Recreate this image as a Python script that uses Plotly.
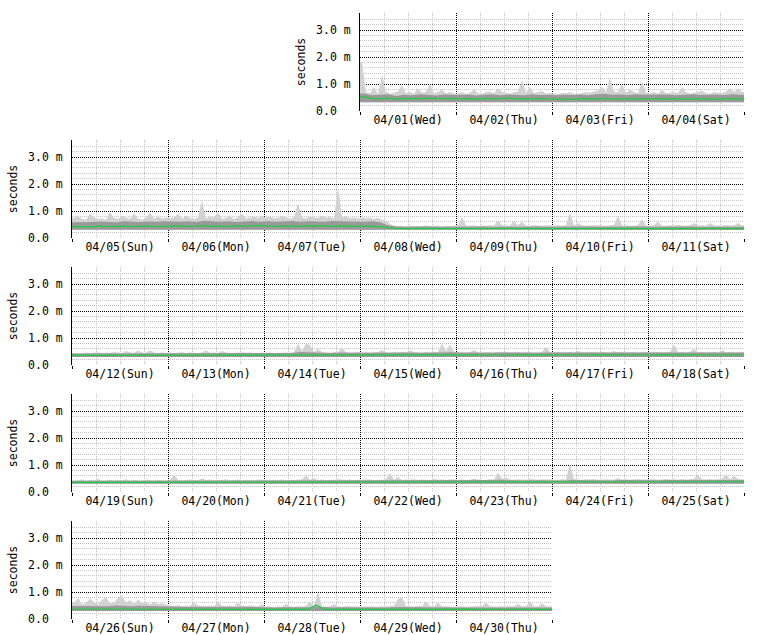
import pandas as pd
import plotly.graph_objects as go

START = "2020-04-01"
N_DAYS = 30

# lower edge of the smoke, one value per day (microseconds)
smoke_min_us = [320, 320, 320, 320, 310, 310, 310, 300, 300, 300, 300,
                300, 300, 300, 300, 300, 300, 300,
                310, 310, 310, 310, 310, 310, 310,
                300, 300, 300, 300, 300]

# upper edge of the smoke (slowest ping), hourly, one list per day (microseconds)
smoke_max_us = [
    [1800, 700, 650, 900, 620, 1350, 700, 640, 680, 720, 950, 660, 700, 640, 850, 680, 700, 1000, 660, 700, 800, 650, 700, 640],
    [650, 700, 620, 680, 800, 660, 640, 700, 720, 650, 850, 700, 680, 640, 700, 720, 1150, 680, 900, 660, 700, 750, 640, 680],
    [640, 620, 680, 660, 700, 640, 620, 660, 700, 680, 720, 760, 900, 700, 1250, 720, 700, 1000, 680, 800, 700, 660, 1100, 680],
    [660, 700, 640, 800, 650, 680, 700, 660, 900, 700, 640, 680, 700, 750, 660, 640, 700, 680, 660, 720, 850, 700, 850, 700],
    [750, 820, 700, 680, 900, 760, 700, 720, 680, 950, 740, 700, 820, 760, 700, 900, 720, 680, 740, 950, 700, 800, 720, 760],
    [720, 760, 900, 700, 820, 740, 700, 760, 1400, 720, 800, 760, 950, 700, 740, 820, 700, 760, 900, 720, 760, 800, 740, 820],
    [760, 800, 720, 740, 820, 760, 700, 780, 1300, 760, 720, 800, 760, 740, 820, 760, 780, 720, 1900, 760, 800, 740, 760, 720],
    [780, 720, 760, 700, 740, 680, 620, 520, 460, 440, 450, 430, 460, 440, 450, 430, 470, 440, 450, 460, 430, 450, 440, 460],
    [480, 780, 460, 450, 470, 440, 460, 450, 470, 460, 670, 480, 460, 450, 650, 470, 600, 460, 450, 480, 460, 450, 470, 460],
    [460, 470, 450, 480, 950, 460, 560, 470, 450, 460, 480, 470, 460, 450, 470, 480, 820, 460, 470, 450, 460, 480, 700, 460],
    [460, 470, 600, 460, 450, 470, 460, 480, 460, 450, 470, 560, 460, 470, 450, 560, 470, 460, 450, 480, 460, 470, 560, 460],
    [440, 450, 430, 460, 440, 450, 470, 440, 460, 450, 480, 460, 440, 520, 460, 450, 540, 460, 450, 550, 460, 440, 460, 450],
    [460, 440, 450, 470, 440, 460, 450, 440, 460, 550, 450, 460, 440, 520, 460, 450, 440, 460, 470, 450, 460, 440, 450, 460],
    [450, 460, 440, 450, 470, 460, 450, 480, 790, 520, 800, 740, 480, 600, 470, 460, 450, 480, 460, 650, 470, 450, 460, 480],
    [460, 470, 450, 460, 480, 560, 460, 450, 470, 460, 480, 460, 550, 470, 460, 450, 480, 460, 470, 480, 800, 520, 750, 480],
    [470, 460, 450, 480, 560, 470, 460, 480, 470, 460, 490, 470, 480, 460, 470, 480, 460, 470, 480, 460, 470, 480, 680, 470],
    [470, 480, 460, 470, 480, 460, 520, 470, 460, 480, 470, 460, 480, 470, 460, 520, 470, 480, 460, 470, 480, 460, 470, 480],
    [460, 470, 480, 460, 470, 480, 760, 470, 480, 460, 490, 600, 470, 480, 460, 470, 480, 460, 560, 470, 480, 460, 470, 480],
    [420, 430, 460, 420, 440, 430, 480, 420, 430, 450, 420, 440, 430, 470, 420, 440, 430, 420, 460, 430, 420, 440, 430, 420],
    [440, 650, 450, 430, 440, 460, 440, 430, 520, 440, 460, 430, 450, 440, 470, 430, 440, 460, 430, 450, 440, 430, 460, 440],
    [440, 430, 450, 440, 460, 430, 450, 440, 460, 470, 600, 450, 520, 440, 460, 430, 450, 440, 470, 450, 440, 460, 430, 450],
    [450, 440, 460, 430, 450, 440, 470, 700, 450, 560, 440, 460, 450, 470, 440, 460, 450, 440, 480, 450, 460, 440, 470, 450],
    [450, 460, 440, 450, 500, 460, 450, 440, 470, 460, 720, 480, 550, 460, 450, 470, 460, 450, 480, 460, 450, 470, 460, 450],
    [460, 450, 470, 460, 1050, 480, 460, 450, 470, 460, 480, 450, 460, 470, 460, 450, 520, 460, 470, 450, 460, 480, 460, 470],
    [460, 470, 450, 460, 480, 460, 470, 450, 480, 460, 470, 490, 650, 470, 460, 480, 460, 470, 490, 650, 470, 600, 480, 470],
    [600, 780, 550, 580, 760, 620, 560, 700, 800, 580, 600, 780, 880, 600, 700, 560, 720, 580, 620, 550, 640, 560, 580, 540],
    [500, 480, 520, 470, 490, 480, 620, 500, 480, 470, 500, 480, 640, 490, 470, 500, 480, 600, 490, 470, 500, 480, 470, 560],
    [450, 460, 440, 470, 450, 560, 460, 450, 470, 460, 480, 650, 470, 1000, 460, 450, 470, 560, 460, 450, 470, 460, 450, 460],
    [460, 450, 470, 460, 450, 470, 460, 480, 500, 750, 800, 480, 470, 460, 480, 470, 650, 480, 470, 600, 460, 470, 450, 460],
    [460, 470, 450, 460, 470, 460, 480, 600, 470, 460, 450, 470, 460, 480, 470, 560, 460, 470, 650, 470, 460, 580, 470, 460],
]

# upper edge of the dense (dark) part of the smoke, every 2 hours (microseconds)
smoke_mid_us = [
    [650, 580, 600, 620, 560, 600, 580, 620, 600, 570, 610, 590],
    [590, 610, 570, 600, 620, 580, 610, 600, 580, 620, 590, 600],
    [580, 600, 590, 610, 580, 620, 640, 600, 610, 590, 620, 600],
    [600, 590, 610, 580, 600, 620, 590, 600, 610, 590, 620, 600],
    [580, 600, 590, 610, 600, 580, 620, 600, 590, 610, 600, 620],
    [610, 600, 620, 590, 640, 610, 600, 620, 590, 610, 630, 600],
    [620, 600, 610, 630, 600, 620, 610, 600, 630, 620, 600, 610],
    [600, 620, 580, 470, 430, 420, 430, 420, 430, 420, 430, 420],
    [420, 430, 415, 425, 420, 430, 420, 415, 425, 420, 430, 420],
    [425, 430, 420, 425, 430, 420, 425, 430, 420, 425, 430, 425],
    [420, 425, 430, 420, 425, 430, 420, 425, 420, 430, 425, 420],
    [430, 440, 435, 445, 440, 450, 440, 445, 450, 440, 445, 440],
    [440, 445, 450, 440, 445, 440, 450, 445, 440, 450, 445, 440],
    [445, 440, 450, 445, 480, 470, 450, 445, 440, 460, 445, 450],
    [450, 455, 460, 450, 455, 460, 465, 455, 460, 450, 480, 470],
    [460, 455, 465, 460, 455, 465, 460, 455, 465, 460, 455, 465],
    [465, 460, 455, 465, 460, 455, 465, 460, 455, 465, 460, 455],
    [460, 465, 455, 480, 460, 465, 455, 460, 465, 455, 460, 465],
    [420, 415, 425, 420, 415, 425, 420, 415, 425, 420, 415, 420],
    [425, 430, 420, 425, 430, 420, 425, 430, 420, 425, 430, 425],
    [425, 420, 430, 425, 440, 430, 425, 420, 430, 425, 420, 430],
    [430, 425, 435, 440, 430, 425, 435, 430, 425, 435, 430, 425],
    [430, 435, 425, 430, 440, 450, 435, 430, 425, 435, 430, 435],
    [435, 430, 440, 435, 430, 440, 435, 430, 440, 435, 430, 440],
    [440, 435, 445, 440, 435, 445, 450, 440, 445, 450, 445, 440],
    [480, 470, 490, 480, 470, 500, 480, 470, 490, 480, 470, 460],
    [450, 440, 445, 450, 440, 445, 450, 440, 445, 450, 440, 445],
    [430, 425, 435, 430, 425, 435, 460, 430, 425, 435, 430, 425],
    [430, 435, 425, 430, 445, 440, 435, 430, 440, 435, 430, 425],
    [425, 430, 435, 425, 430, 435, 430, 425, 435, 430, 425, 430],
]

# median round-trip time, every 2 hours (microseconds)
median_us = [
    [520, 470, 450, 480, 440, 460, 470, 450, 480, 460, 450, 470],
    [450, 460, 440, 470, 450, 460, 480, 450, 460, 440, 470, 450],
    [440, 450, 430, 450, 460, 440, 470, 450, 440, 460, 440, 450],
    [450, 440, 460, 440, 450, 460, 440, 450, 430, 450, 460, 440],
    [420, 430, 410, 440, 420, 430, 440, 420, 430, 450, 420, 440],
    [440, 450, 430, 440, 460, 430, 440, 420, 450, 430, 460, 470],
    [440, 430, 450, 440, 430, 450, 440, 460, 430, 450, 440, 430],
    [430, 440, 410, 370, 360, 350, 360, 350, 360, 350, 360, 350],
    [350, 360, 350, 345, 355, 350, 360, 345, 350, 355, 350, 345],
    [350, 345, 355, 350, 345, 350, 360, 350, 345, 355, 350, 345],
    [350, 355, 345, 350, 355, 345, 350, 355, 350, 345, 355, 350],
    [355, 360, 350, 365, 355, 360, 350, 360, 365, 355, 360, 350],
    [360, 355, 365, 360, 350, 360, 365, 355, 360, 350, 365, 360],
    [355, 360, 350, 360, 370, 360, 355, 365, 360, 355, 360, 365],
    [365, 360, 370, 365, 360, 370, 375, 365, 370, 360, 375, 380],
    [370, 375, 365, 370, 380, 370, 365, 375, 370, 380, 375, 370],
    [375, 370, 380, 375, 370, 380, 375, 370, 380, 375, 370, 375],
    [370, 375, 380, 370, 375, 380, 370, 375, 380, 370, 375, 370],
    [360, 355, 365, 360, 355, 360, 365, 355, 360, 365, 355, 360],
    [365, 360, 370, 365, 360, 365, 370, 360, 365, 370, 360, 365],
    [365, 370, 360, 365, 370, 365, 360, 370, 365, 360, 370, 365],
    [365, 360, 370, 365, 370, 360, 365, 370, 365, 360, 370, 365],
    [370, 365, 360, 370, 375, 365, 370, 360, 365, 370, 365, 370],
    [370, 375, 365, 370, 375, 370, 365, 375, 370, 375, 370, 375],
    [375, 370, 380, 375, 370, 380, 375, 380, 385, 375, 380, 385],
    [370, 365, 375, 370, 360, 370, 365, 375, 370, 365, 370, 360],
    [360, 365, 355, 360, 365, 355, 360, 365, 355, 360, 355, 360],
    [355, 360, 350, 355, 360, 355, 520, 360, 355, 350, 355, 360],
    [360, 355, 360, 365, 355, 360, 365, 360, 355, 360, 365, 360],
    [360, 365, 355, 360, 365, 360, 355, 360, 365, 360, 355, 360],
]

y_tick_vals = [0, 1, 2, 3]
y_tick_text = ["0.0\u00a0\u00a0", "1.0 m", "2.0 m", "3.0 m"]

assert len(smoke_min_us) == N_DAYS
assert all(len(v) == 24 for v in smoke_max_us) and len(smoke_max_us) == N_DAYS
assert all(len(v) == 12 for v in smoke_mid_us) and len(smoke_mid_us) == N_DAYS
assert all(len(v) == 12 for v in median_us) and len(median_us) == N_DAYS

# ---------------------------------------------------------------- layout ---
W, H = 760, 635
PX_DAY = 96
ROW_LEFT = [360, 72, 72, 72, 72]
ROW_BOTTOM0 = 111
ROW_STEP = 127
PLOT_H = 98
Y_MAX = PLOT_H / 27.0

FONT = dict(family="DejaVu Sans Mono", size=11.5, color="black")
MAJOR_GRID = dict(gridcolor="#000000", griddash="1px,1px", gridwidth=1)
MINOR_GRID = dict(gridcolor="#c4c4c4", griddash="1px,1px", gridwidth=1)

C_OUTER = "#d2d2d2"
C_INNER = "#9a9a9a"
C_MEDIAN = "#22cc44"

days = pd.date_range(START, periods=N_DAYS, freq="D")
HOUR = pd.Timedelta(hours=1)
DAY = pd.Timedelta(days=1)

rows = []
for i, d in enumerate(days):
    if i == 0 or d.dayofweek == 6:
        rows.append([])
    rows[-1].append(i)

fig = go.Figure()
axes = {}
for r, idxs in enumerate(rows):
    sfx = "" if r == 0 else str(r + 1)
    xa, ya = "x" + sfx, "y" + sfx
    lo_x, lo_y, hi_x, hi_y = [], [], [], []
    mid_x, mid_y, med_x, med_y = [], [], [], []
    for i in idxs:
        d0 = days[i]
        lo_x += [d0, d0 + DAY]
        lo_y += [smoke_min_us[i] / 1000.0] * 2
        for h, v in enumerate(smoke_max_us[i]):
            hi_x.append(d0 + (h + 0.5) * HOUR)
            hi_y.append(v / 1000.0)
        for j, v in enumerate(smoke_mid_us[i]):
            mid_x.append(d0 + (2 * j + 1) * HOUR)
            mid_y.append(v / 1000.0)
        for j, v in enumerate(median_us[i]):
            med_x.append(d0 + (2 * j + 1) * HOUR)
            med_y.append(v / 1000.0)
    row_start = days[idxs[0]]
    row_end = days[idxs[-1]] + DAY
    hi_x = [row_start] + hi_x + [row_end]
    hi_y = [hi_y[0]] + hi_y + [hi_y[-1]]
    mid_x = [row_start] + mid_x + [row_end]
    mid_y = [mid_y[0]] + mid_y + [mid_y[-1]]
    med_x = [row_start] + med_x + [row_end]
    med_y = [med_y[0]] + med_y + [med_y[-1]]

    common = dict(xaxis=xa, yaxis=ya, hoverinfo="skip", showlegend=False)
    fig.add_trace(go.Scatter(x=lo_x, y=lo_y, mode="lines", line=dict(width=0, color=C_OUTER), **common))
    fig.add_trace(go.Scatter(x=hi_x, y=hi_y, mode="lines", line=dict(width=0, color=C_OUTER),
                             fill="tonexty", fillcolor=C_OUTER, **common))
    fig.add_trace(go.Scatter(x=lo_x, y=lo_y, mode="lines", line=dict(width=0, color=C_INNER), **common))
    fig.add_trace(go.Scatter(x=mid_x, y=mid_y, mode="lines", line=dict(width=0, color=C_INNER),
                             fill="tonexty", fillcolor=C_INNER, **common))
    fig.add_trace(go.Scatter(x=med_x, y=med_y, mode="lines", line=dict(width=1.2, color=C_MEDIAN), **common))

    left = ROW_LEFT[r]
    right = left + PX_DAY * len(idxs)
    bottom = ROW_BOTTOM0 + ROW_STEP * r
    top = bottom - PLOT_H
    axes["xaxis" + sfx] = dict(
        domain=[left / W, right / W], anchor=ya, type="date",
        range=[row_start, row_end], automargin=False,
        tick0=START, dtick=86400000, tickformat="%m/%d(%a)", ticklabelmode="period",
        ticks="outside", ticklen=3, tickcolor="black", tickfont=FONT, ticklabelstandoff=-5,
        showgrid=True, **MAJOR_GRID,
        minor=dict(tick0=START, dtick=21600000, showgrid=True, ticks="", **MINOR_GRID),
        showline=False, zeroline=False, fixedrange=True,
    )
    axes["yaxis" + sfx] = dict(
        domain=[(H - bottom) / H, (H - top) / H], anchor=xa, automargin=False,
        range=[0, Y_MAX], tickmode="array", tickvals=y_tick_vals, ticktext=y_tick_text,
        tickfont=FONT, ticks="", ticklabelstandoff=6,
        showgrid=True, **MAJOR_GRID,
        minor=dict(tickmode="linear", tick0=0, dtick=0.2, showgrid=True, ticks="", **MINOR_GRID),
        zeroline=True, zerolinecolor="white", zerolinewidth=1,
        showline=True, linecolor="black", linewidth=1,
        title=dict(text="seconds", font=FONT, standoff=8), fixedrange=True,
    )

fig.update_layout(width=W, height=H, margin=dict(l=0, r=0, t=0, b=0),
                  paper_bgcolor="white", plot_bgcolor="white", showlegend=False,
                  **axes)
fig.write_html("out.html", config={"displayModeBar": False})
